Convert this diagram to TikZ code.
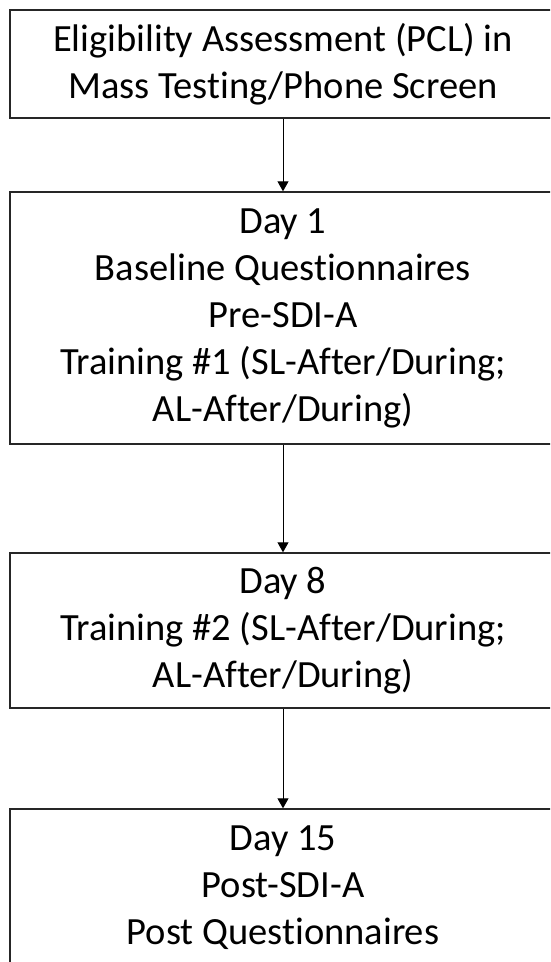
\documentclass[tikz,border=0pt]{standalone}
\usepackage{fontspec}
\setmainfont{Carlito}[Ligatures=CommonOff]
\usetikzlibrary{arrows.meta}
\begin{document}
\begin{tikzpicture}[x=1pt,y=-1pt,>={Triangle[width=11pt,length=10pt]},
    stage/.style={draw=black!85,line width=1.4pt,minimum width=546pt,inner sep=0pt,
        align=center,font=\fontsize{38.5}{47}\selectfont}]
\clip (0,0) rectangle (550,962);
\node[stage,minimum height=108pt](elig) at (283,64){Eligibility Assessment (PCL) in\\Mass Testing/Phone Screen};
\node[stage,minimum height=252pt](dayone) at (283,318){Day 1\\Baseline Questionnaires\\Pre-SDI-A\\Training \#1 (SL-After/During;\\AL-After/During)};
\node[stage,minimum height=155pt](dayeight) at (283,630.5){Day 8\\Training \#2 (SL-After/During;\\AL-After/During)};
\node[stage,minimum height=158pt](dayfifteen) at (283,888){Day 15\\Post-SDI-A\\Post Questionnaires};
\draw[->,line width=1pt](elig)--(dayone);
\draw[->,line width=1pt](dayone)--(dayeight);
\draw[->,line width=1pt](dayeight)--(dayfifteen);
\end{tikzpicture}
\end{document}
